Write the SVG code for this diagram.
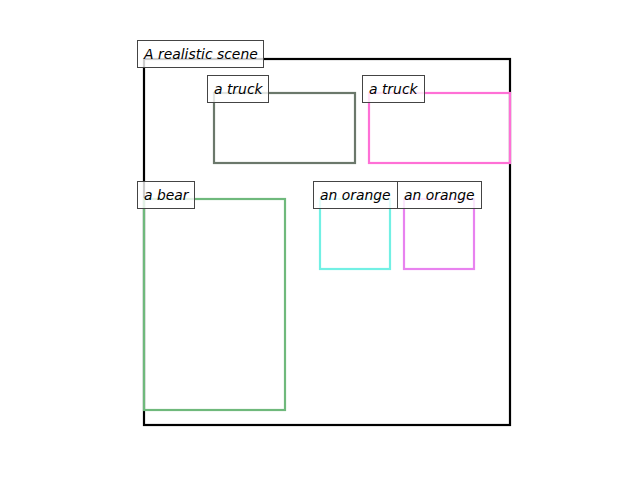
<svg xmlns="http://www.w3.org/2000/svg" width="640" height="480" viewBox="0 0 640 480">
<style>
.box{fill:none;stroke-width:2.2}
.lbl rect{fill:#fff;fill-opacity:0.8;stroke:#444;stroke-width:1}
.lbl text{font-family:"DejaVu Sans",sans-serif;font-style:italic;font-size:13.9px;fill:#000}
</style>
<rect width="640" height="480" fill="#fff"/>
<g id="scene"><rect class="box" x="144" y="59" width="366" height="366" stroke="#000"/></g>
<g id="truck1"><rect class="box" x="214" y="93" width="141" height="70" stroke="#6b786b"/></g>
<g id="truck2"><rect class="box" x="369" y="93" width="141" height="70" stroke="#ff70d6"/></g>
<g id="bear"><rect class="box" x="144" y="199" width="141" height="211" stroke="#6fb97c"/></g>
<g id="orange1"><rect class="box" x="320" y="199" width="70" height="70" stroke="#72f0e4"/></g>
<g id="orange2"><rect class="box" x="404" y="199" width="70" height="70" stroke="#e882ef"/></g>
<g id="labels">
<g class="lbl"><rect x="137.5" y="40.5" width="126" height="27"/><text x="144" y="59">A realistic scene</text></g>
<g class="lbl"><rect x="207.5" y="75.5" width="61" height="27"/><text x="214" y="94">a truck</text></g>
<g class="lbl"><rect x="362.5" y="75.5" width="62" height="27"/><text x="369" y="94">a truck</text></g>
<g class="lbl"><rect x="137.5" y="181.5" width="57" height="27"/><text x="144" y="200">a bear</text></g>
<g class="lbl"><rect x="313.5" y="181.5" width="84" height="27"/><text x="320" y="200">an orange</text></g>
<g class="lbl"><rect x="397.5" y="181.5" width="84" height="27"/><text x="404" y="200">an orange</text></g>
</g>
</svg>
